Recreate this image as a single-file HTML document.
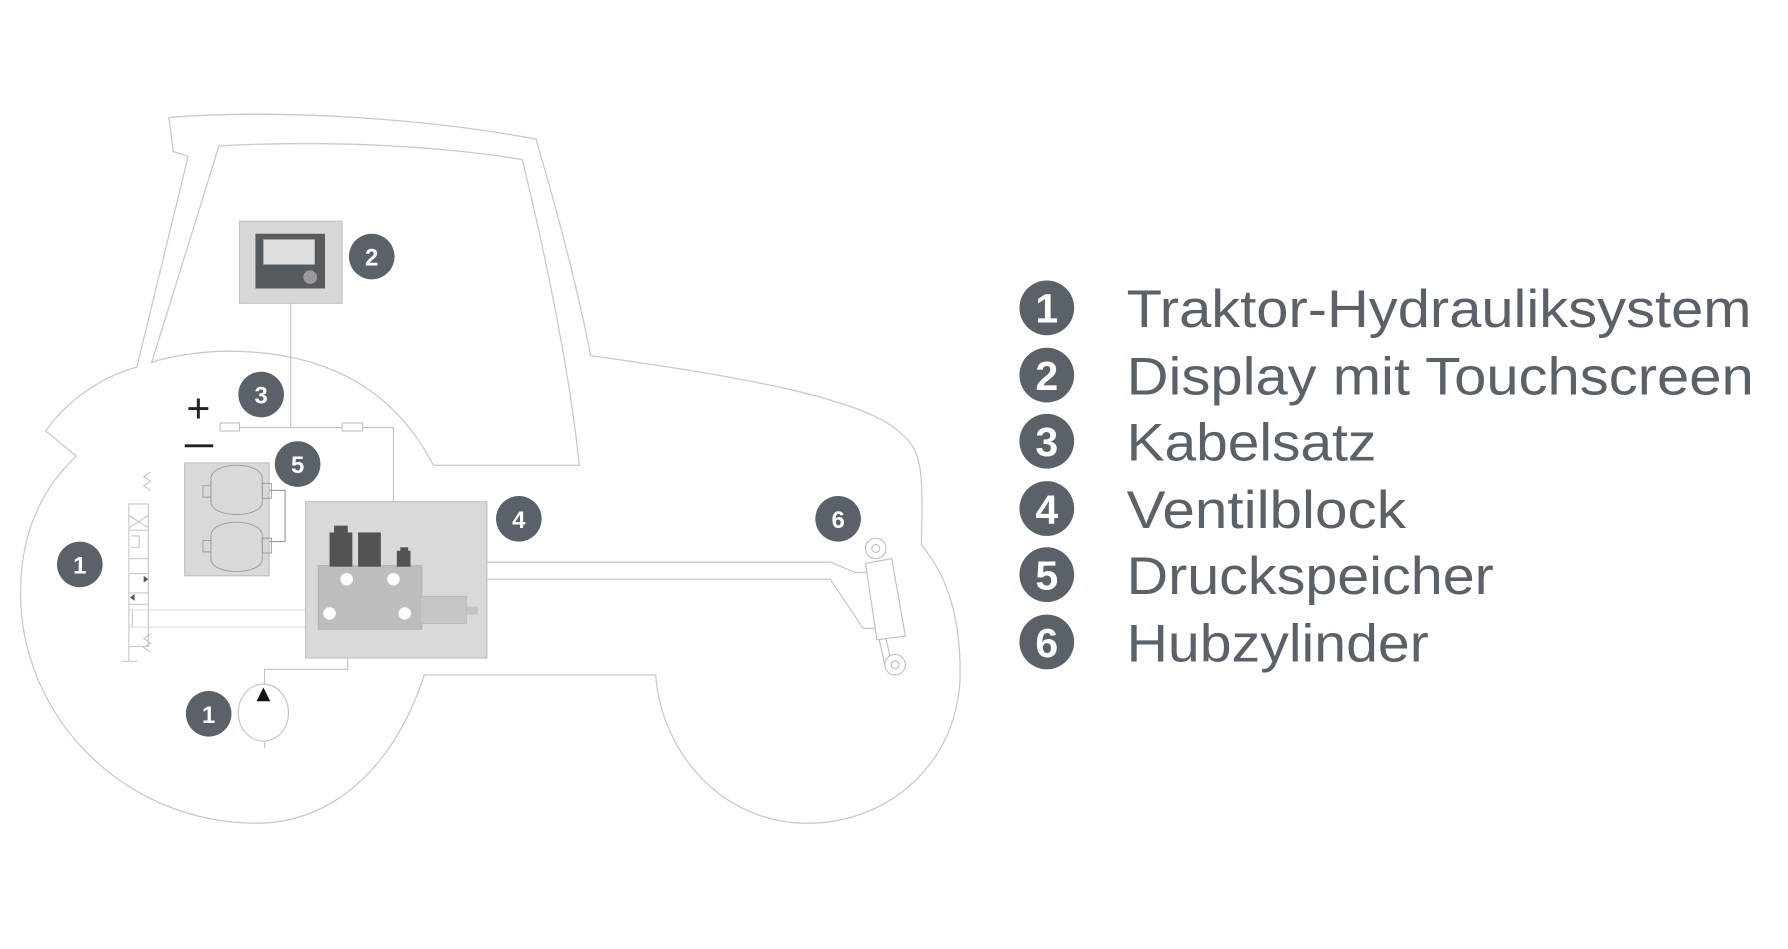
<!DOCTYPE html>
<html><head><meta charset="utf-8"><style>
html,body{margin:0;padding:0;background:#fff;}
svg{display:block;}
</style></head><body>
<svg width="1788" height="949" viewBox="0 0 1568 832.3" preserveAspectRatio="none" xmlns="http://www.w3.org/2000/svg">
<g fill="none" stroke="#c9c9c9" stroke-width="1.1">
<path d="M148,103 C250,95 380,105 470,122 C490,190 508,260 518,312 C650,330 760,350 790,380 C808,395 810,410 808,478 C835,510 842,550 842,590 C842,665 783,722 708,722 C633,722 580,660 575,592 L372,592 C345,675 290,722 225,722 C110,722 18,630 18,520 C18,470 35,430 67,400 L40,378 C60,350 90,330 120,322 L165,137 L152,133 Z"/>
<path d="M192,128 C300,122 400,130 458,140 C480,230 500,330 508,408 L380,408 C340,330 270,308 200,308 C170,308 140,315 133,318 Z"/>
</g>
<!-- wiring -->
<g fill="none" stroke="#c4c4c4" stroke-width="1">
<line x1="255" y1="266" x2="255" y2="375"/>
<polyline points="210,375 345,375 345,440"/>
<rect x="193" y="371" width="17" height="7" fill="#fff"/>
<rect x="300" y="371" width="18" height="7" fill="#fff"/>
<polyline points="236,430 250,430 250,475 236,475" stroke="#999"/>
<polyline points="427,493 728,493 750,502 760,502"/>
<polyline points="427,508 728,508 757,551 767,551"/>
<line x1="113" y1="535" x2="280" y2="535" stroke="#e2e2e2"/>
<line x1="113" y1="550" x2="280" y2="550" stroke="#e2e2e2"/>
<polyline points="232,600 232,587 305,587 305,577"/>
<line x1="232" y1="650" x2="232" y2="656"/>
</g>
<!-- display -->
<rect x="210" y="194" width="90" height="72" fill="#d7d7d7" stroke="#c4c4c4"/>
<rect x="224" y="205" width="61" height="48" fill="#565b60"/>
<rect x="231" y="210" width="45" height="22" fill="#dedede"/>
<circle cx="272" cy="243" r="6" fill="#9a9a9a"/>
<!-- +/- -->
<text x="174" y="370" font-family="Liberation Sans, sans-serif" font-size="36" fill="#222" text-anchor="middle">+</text>
<line x1="162" y1="391" x2="187" y2="391" stroke="#222" stroke-width="2.5"/>
<!-- accumulator -->
<rect x="162" y="406" width="74" height="99" fill="#d9d9d9" stroke="#bdbdbd"/>
<g fill="none" stroke="#999" stroke-width="0.8">
<path d="M185,420 C185,404 230,404 230,420 L230,440 C230,455 185,455 185,440 Z"/>
<path d="M185,470 C185,454 230,454 230,470 L230,490 C230,505 185,505 185,490 Z"/>
<rect x="178" y="426" width="7" height="10"/><rect x="230" y="424" width="8" height="13"/>
<rect x="178" y="474" width="7" height="10"/><rect x="230" y="472" width="8" height="13"/>
</g>
<!-- left valve symbol -->
<g fill="none" stroke="#c8c8c8" stroke-width="1">
<rect x="113" y="442" width="17" height="125"/>
<line x1="113" y1="465" x2="130" y2="465"/>
<line x1="113" y1="490" x2="130" y2="490"/>
<line x1="113" y1="503" x2="130" y2="503"/>
<line x1="113" y1="520" x2="130" y2="520"/>
<line x1="113" y1="530" x2="130" y2="530"/>
<line x1="113" y1="452" x2="130" y2="463"/><line x1="130" y1="452" x2="113" y2="463"/>
<polyline points="115,470 122,470 122,480 115,480"/>
<polyline points="132,430 126,426 132,422 126,418 132,414" />
<polyline points="132,572 126,568 132,564 126,560 132,556" />
<polyline points="113,567 113,580 107,580 120,580"/>
<line x1="116" y1="535" x2="116" y2="550"/>
</g>
<polygon points="116,508 126,508 126,505 130,508 126,511 126,508" fill="#555"/>
<polygon points="114,524 118,521 118,527" fill="#555"/>
<!-- valve block -->
<rect x="268" y="440" width="159" height="137" fill="#d9d9d9" stroke="#c0c0c0"/>
<rect x="279" y="496" width="91" height="56" fill="#bdbdbd" stroke="#aaa" stroke-width="0.6"/>
<rect x="289" y="467" width="20" height="30" fill="#535353"/>
<rect x="293" y="461" width="12" height="8" fill="#535353"/>
<rect x="314" y="467" width="20" height="30" fill="#535353"/>
<rect x="348" y="483" width="12" height="14" fill="#535353"/>
<rect x="351" y="480" width="7" height="4" fill="#535353"/>
<g fill="#fff"><circle cx="304" cy="508" r="5.5"/><circle cx="345" cy="508" r="5.5"/><circle cx="289" cy="538" r="5.5"/><circle cx="355" cy="538" r="5.5"/></g>
<rect x="369" y="523" width="40" height="24" fill="#c5c5c5" stroke="#b5b5b5" stroke-width="0.6"/>
<rect x="409" y="532" width="10" height="7" fill="#c5c5c5"/>
<!-- pump -->
<ellipse cx="231" cy="625" rx="22" ry="25" fill="#fff" stroke="#c4c4c4"/>
<polygon points="231,603 225,615 237,615" fill="#111"/>
<!-- cylinder -->
<g fill="#fff" stroke="#c0c0c0" stroke-width="1">
<circle cx="768" cy="481" r="9"/><circle cx="768" cy="481" r="3.5"/>
<polygon points="771,561 776,583 782,582 777,560"/>
<circle cx="785" cy="583" r="9"/><circle cx="785" cy="583" r="3.5"/>
<polygon points="759,494 782,490 794,558 769,561"/>
</g>
<!-- badges -->
<g font-family="Liberation Sans, sans-serif" font-weight="bold" font-size="21" fill="#fff" text-anchor="middle">
<circle cx="326" cy="225" r="20" fill="#5b6168"/><text x="326" y="233">2</text>
<circle cx="229" cy="346" r="20" fill="#5b6168"/><text x="229" y="354">3</text>
<circle cx="261" cy="407" r="20" fill="#5b6168"/><text x="261" y="415">5</text>
<circle cx="455" cy="455" r="20" fill="#5b6168"/><text x="455" y="463">4</text>
<circle cx="735" cy="455" r="20" fill="#5b6168"/><text x="735" y="463">6</text>
<circle cx="70" cy="495" r="20" fill="#5b6168"/><text x="70" y="503">1</text>
<circle cx="183" cy="626" r="20" fill="#5b6168"/><text x="183" y="634">1</text>
</g>
<!-- legend -->
<g font-family="Liberation Sans, sans-serif" font-weight="bold" font-size="36" fill="#fff" text-anchor="middle">
<circle cx="918" cy="270" r="24" fill="#5b6168"/><text x="918" y="283">1</text>
<circle cx="918" cy="329" r="24" fill="#5b6168"/><text x="918" y="342">2</text>
<circle cx="918" cy="387" r="24" fill="#5b6168"/><text x="918" y="400">3</text>
<circle cx="918" cy="446" r="24" fill="#5b6168"/><text x="918" y="459">4</text>
<circle cx="918" cy="504" r="24" fill="#5b6168"/><text x="918" y="517">5</text>
<circle cx="918" cy="563" r="24" fill="#5b6168"/><text x="918" y="576">6</text>
</g>
<g font-family="Liberation Sans, sans-serif" font-size="46" fill="#5a6169">
<text x="988" y="287" textLength="548" lengthAdjust="spacingAndGlyphs">Traktor-Hydrauliksystem</text>
<text x="988" y="346" textLength="550" lengthAdjust="spacingAndGlyphs">Display mit Touchscreen</text>
<text x="988" y="404" textLength="219" lengthAdjust="spacingAndGlyphs">Kabelsatz</text>
<text x="988" y="463" textLength="245" lengthAdjust="spacingAndGlyphs">Ventilblock</text>
<text x="988" y="521" textLength="322" lengthAdjust="spacingAndGlyphs">Druckspeicher</text>
<text x="988" y="580" textLength="265" lengthAdjust="spacingAndGlyphs">Hubzylinder</text>
</g>
</svg>
</body></html>
